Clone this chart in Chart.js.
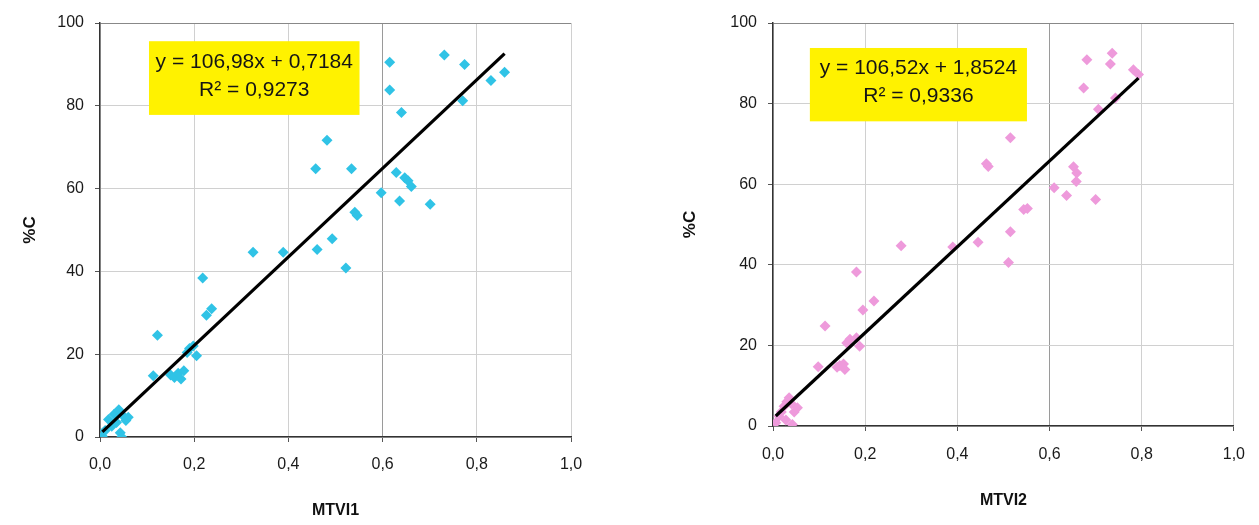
<!DOCTYPE html>
<html><head><meta charset="utf-8">
<script src="https://cdn.jsdelivr.net/npm/chart.js@4.4.1/dist/chart.umd.min.js"></script>
<style>
html,body{margin:0;padding:0;background:#fff;}
#wrap{position:relative;width:1259px;height:525px;background:#fff;}
.box{position:absolute;top:0;height:525px;}
</style></head><body>
<div id="wrap">
<div class="box" style="left:0;width:640px"><canvas id="c1"></canvas></div>
<div class="box" style="left:640px;width:619px"><canvas id="c2"></canvas></div>
</div>
<script>
// ---- data ----
const xTicks = [0, 0.2, 0.4, 0.6, 0.8, 1.0];
const yTicks = [0, 20, 40, 60, 80, 100];
const xTitle1 = 'MTVI1';
const xTitle2 = 'MTVI2';
const yTitle = '%C';

const mtvi1X = [0.005,0.011,0.018,0.025,0.030,0.035,0.040,0.043,0.046,0.050,0.055,0.060,
  0.113,0.150,0.158,0.166,0.172,0.178,0.122,0.185,0.190,0.198,0.205,0.218,0.226,0.237,
  0.325,0.389,0.461,0.458,0.482,0.493,0.522,0.534,0.541,0.546,0.597,0.615,0.615,0.629,
  0.636,0.640,0.647,0.654,0.661,0.701,0.731,0.770,0.774,0.830,0.859];
const mtvi1C = [0.2,1.6,4.2,2.6,5.5,3.5,6.6,1.0,0.0,5.0,4.0,4.8,
  14.8,15.0,14.4,15.4,14.0,16.0,24.6,20.4,21.4,22.0,19.6,38.4,29.4,31.0,
  44.6,44.6,45.3,64.8,71.7,47.9,40.8,64.8,54.3,53.5,59.0,90.5,83.8,63.9,
  57.0,78.4,62.6,61.9,60.5,56.2,92.3,81.2,90.0,86.1,88.1];

const mtvi2X = [0.006,0.013,0.018,0.024,0.030,0.035,0.042,0.046,0.053,0.028,0.040,
  0.098,0.139,0.145,0.153,0.156,0.113,0.160,0.167,0.181,0.188,0.181,0.195,0.219,
  0.278,0.390,0.445,0.463,0.467,0.511,0.515,0.515,0.544,0.552,0.610,0.637,0.652,
  0.659,0.658,0.700,0.674,0.681,0.706,0.732,0.736,0.743,0.782,0.793];
const mtvi2C = [0.8,2.4,3.5,4.9,6.0,7.0,0.4,3.5,4.5,1.5,5.5,
  14.7,14.6,15.0,15.4,14.0,24.8,20.6,21.5,21.9,19.8,38.2,28.8,31.0,
  44.7,44.4,45.6,65.1,64.4,40.6,48.2,71.5,53.7,54.0,59.1,57.2,64.3,
  62.8,60.7,56.2,83.9,90.9,78.6,89.8,92.5,81.4,88.4,87.2];

const slope1 = 106.98, intercept1 = 0.7184;
const slope2 = 106.52, intercept2 = 1.8524;
const eqText1 = ['y = 106,98x + 0,7184', 'R\u00b2 = 0,9273'];
const eqText2 = ['y = 106,52x + 1,8524', 'R\u00b2 = 0,9336'];

// ---- helpers ----
function trend(xs, slope, intercept) {
  const lo = Math.min(...xs), hi = Math.max(...xs);
  return [{x: lo, y: slope * lo + intercept}, {x: hi, y: slope * hi + intercept}];
}
const fmt = v => Number(v).toFixed(1).replace('.', ',');
const FAM = '"Liberation Sans", Arial, sans-serif';

const eqBoxPlugin = {
  id: 'eqBox',
  afterDraw(chart, args, o) {
    if (!o || !o.lines) return;
    const {ctx, scales: {x, y}} = chart;
    const l = x.getPixelForValue(o.x0), r = x.getPixelForValue(o.x1);
    const t = y.getPixelForValue(o.y0), b = y.getPixelForValue(o.y1);
    ctx.save();
    ctx.fillStyle = '#FFF200';
    ctx.fillRect(l, t, r - l, b - t);
    ctx.fillStyle = '#151515';
    ctx.font = '21px ' + FAM;
    ctx.textAlign = 'center';
    ctx.textBaseline = 'middle';
    const cx = (l + r) / 2, h = b - t;
    ctx.fillText(o.lines[0], cx, t + h * 0.28);
    ctx.fillText(o.lines[1], cx, t + h * 0.66);
    ctx.restore();
  }
};

function makeChart(id, xs, ys, color, slope, intercept, eqLines, xTitle, L) {
  return new Chart(document.getElementById(id), {
    type: 'scatter',
    data: {
      datasets: [
        {label: 'trend', data: trend(xs, slope, intercept), showLine: true,
         borderColor: '#000', borderWidth: 3.2, pointRadius: 0, order: 0},
        {label: 'data', data: xs.map((v, i) => ({x: v, y: ys[i]})),
         pointStyle: 'rectRot', pointRadius: 5.5, pointBackgroundColor: color,
         pointBorderColor: color, pointBorderWidth: 0, order: 1}
      ]
    },
    options: {
      responsive: true, maintainAspectRatio: false, animation: false,
      layout: {padding: L.padding},
      plugins: {legend: {display: false}, tooltip: {enabled: false},
        eqBox: {lines: eqLines, x0: L.box[0], x1: L.box[1], y0: L.box[2], y1: L.box[3]}},
      scales: {
        x: {
          type: 'linear', min: 0, max: 1,
          afterBuildTicks: s => { s.ticks = xTicks.map(v => ({value: v})); },
          afterFit: s => { s.height = L.xh; },
          ticks: {callback: v => fmt(v), color: '#1a1a1a', padding: L.xpad,
                  font: {family: FAM, size: 16}, maxRotation: 0},
          grid: {color: c => (c.tick && Math.abs(c.tick.value - 0.6) < 1e-6) ? '#9a9a9a' : '#d0d0d0',
                 lineWidth: 1, tickLength: 5, tickColor: '#555'},
          border: {color: '#333', width: 1.5},
          title: {display: true, text: xTitle, color: '#111',
                  font: {family: FAM, size: 16, weight: 'bold'},
                  padding: {top: 0, bottom: L.xtb}}
        },
        y: {
          type: 'linear', min: 0, max: 100,
          afterBuildTicks: s => { s.ticks = yTicks.map(v => ({value: v})); },
          afterFit: s => { s.width = L.yw; },
          ticks: {color: '#1a1a1a', padding: 11, font: {family: FAM, size: 16}},
          grid: {color: c => (c.tick && c.tick.value === 100) ? '#888' : '#d0d0d0',
                 lineWidth: 1, tickLength: 5, tickColor: '#555'},
          border: {color: '#333', width: 1.5},
          title: {display: true, text: yTitle, color: '#111',
                  font: {family: FAM, size: 17, weight: 'bold'},
                  padding: {top: L.ytp, bottom: 0}}
        }
      }
    },
    plugins: [eqBoxPlugin]
  });
}

makeChart('c1', mtvi1X, mtvi1C, '#30C3E6', slope1, intercept1, eqText1, xTitle1,
  {padding: {left: 10, top: 23, right: 69, bottom: 0}, yw: 90, xh: 88, xpad: 13, xtb: 5, ytp: 10,
   box: [0.104, 0.551, 95.6, 77.8]});
makeChart('c2', mtvi2X, mtvi2C, '#EE9ADB', slope2, intercept2, eqText2, xTitle2,
  {padding: {left: 10, top: 23, right: 19, bottom: 0}, yw: 123, xh: 99, xpad: 14, xtb: 15, ytp: 30,
   box: [0.080, 0.551, 93.8, 75.6]});
</script>
</body></html>
